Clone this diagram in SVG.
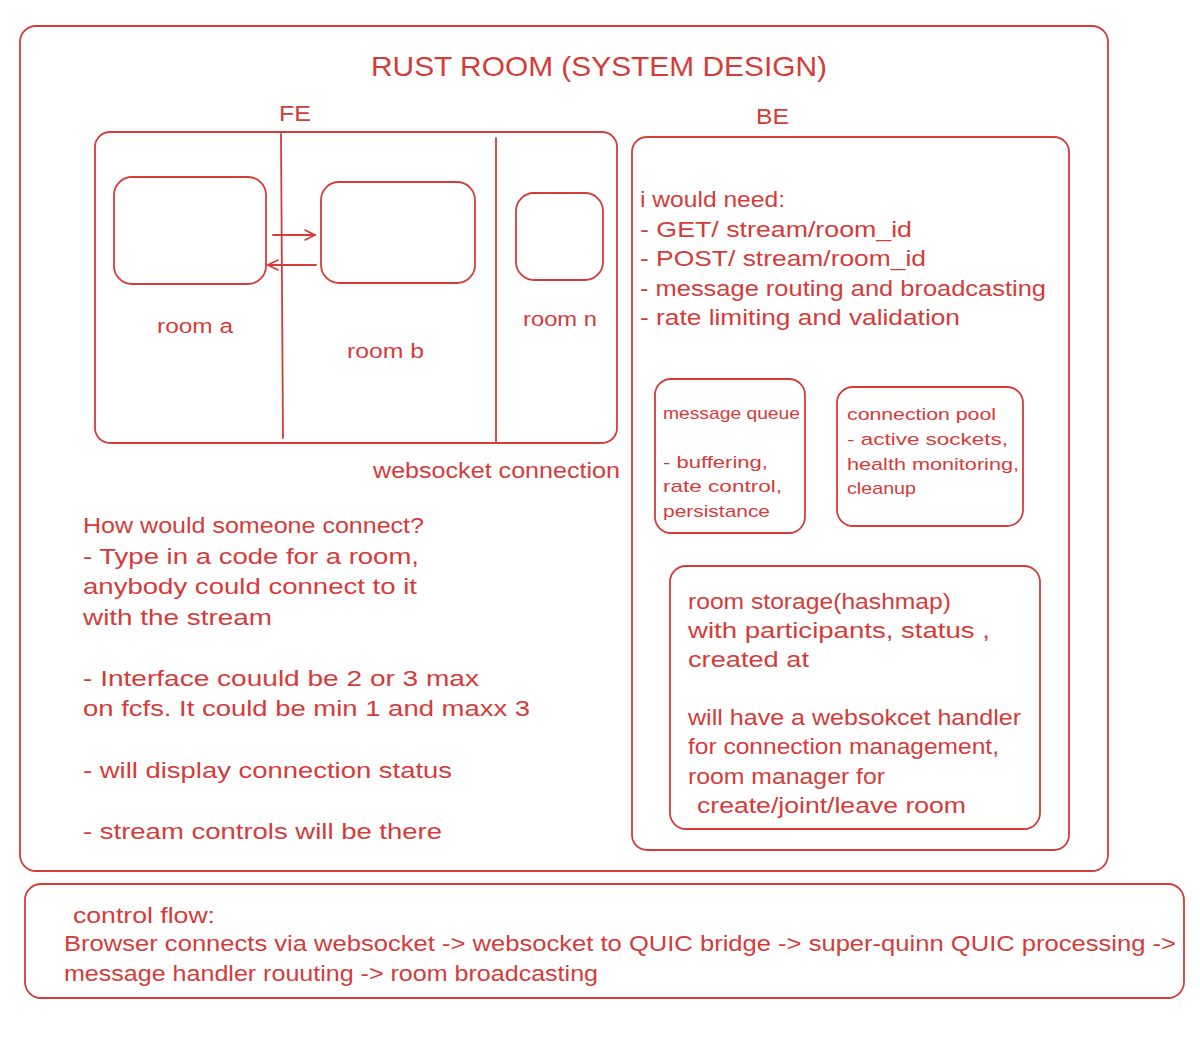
<svg xmlns="http://www.w3.org/2000/svg" width="1200" height="1038" viewBox="0 0 1200 1038">
<style>
.box{fill:none;stroke:#d43c3a;stroke-width:1.8}
.ln{fill:none;stroke:#d43c3a;stroke-width:1.8;stroke-linecap:round}
text{fill:#d43c3a;font-family:"Liberation Sans","DejaVu Sans",sans-serif;font-size:22px}
.title{font-size:28px}
.sm{font-size:17px}
.lbl{font-size:20px}
</style>
<defs>
<marker id="arr" viewBox="0 0 12 12" refX="11" refY="6" markerWidth="12" markerHeight="12" markerUnits="userSpaceOnUse" orient="auto">
<path d="M1,1 L11,6 L1,11" fill="none" stroke="#d43c3a" stroke-width="1.6" stroke-linecap="round"/>
</marker>
</defs>
<rect width="1200" height="1038" fill="#ffffff"/>

<g id="frame">
<rect class="box" x="20" y="26" width="1088" height="845" rx="16"/>
<text class="title" x="371" y="76" textLength="456" lengthAdjust="spacingAndGlyphs">RUST ROOM (SYSTEM DESIGN)</text>
</g>

<g id="fe">
<text x="279" y="121" textLength="32" lengthAdjust="spacingAndGlyphs">FE</text>
<rect class="box" x="95" y="132" width="522" height="311" rx="15"/>
<line class="ln" x1="281" y1="134" x2="283" y2="438"/>
<line class="ln" x1="496" y1="138" x2="496" y2="443"/>
</g>

<g id="room-a">
<rect class="box" x="114" y="177" width="152" height="107" rx="18"/>
<text class="lbl" x="157" y="333" textLength="76" lengthAdjust="spacingAndGlyphs">room a</text>
</g>

<g id="room-b">
<rect class="box" x="321" y="182" width="154" height="101" rx="18"/>
<text class="lbl" x="347" y="358" textLength="77" lengthAdjust="spacingAndGlyphs">room b</text>
</g>

<g id="room-n">
<rect class="box" x="516" y="193" width="87" height="87" rx="18"/>
<text class="lbl" x="523" y="326" textLength="74" lengthAdjust="spacingAndGlyphs">room n</text>
</g>

<g id="connectors">
<line class="ln" x1="273" y1="235" x2="315" y2="235" marker-end="url(#arr)"/>
<line class="ln" x1="316" y1="265" x2="268" y2="265" marker-end="url(#arr)"/>
</g>

<g id="ws-label">
<text x="373" y="478" textLength="247" lengthAdjust="spacingAndGlyphs">websocket connection</text>
</g>

<g id="fe-notes">
<text x="83" y="533" textLength="341" lengthAdjust="spacingAndGlyphs">How would someone connect?</text>
<text x="83" y="564" textLength="336" lengthAdjust="spacingAndGlyphs">- Type in a code for a room,</text>
<text x="83" y="594" textLength="334" lengthAdjust="spacingAndGlyphs">anybody could connect to it</text>
<text x="83" y="625" textLength="189" lengthAdjust="spacingAndGlyphs">with the stream</text>
<text x="83" y="686" textLength="396" lengthAdjust="spacingAndGlyphs">- Interface couuld be 2 or 3 max</text>
<text x="83" y="716" textLength="447" lengthAdjust="spacingAndGlyphs">on fcfs. It could be min 1 and maxx 3</text>
<text x="83" y="778" textLength="369" lengthAdjust="spacingAndGlyphs">- will display connection status</text>
<text x="83" y="839" textLength="359" lengthAdjust="spacingAndGlyphs">- stream controls will be there</text>
</g>

<g id="be">
<text x="756" y="124" textLength="33" lengthAdjust="spacingAndGlyphs">BE</text>
<rect class="box" x="632" y="137" width="437" height="713" rx="15"/>
<text x="640" y="207" textLength="145" lengthAdjust="spacingAndGlyphs">i would need:</text>
<text x="640" y="237" textLength="272" lengthAdjust="spacingAndGlyphs">- GET/ stream/room_id</text>
<text x="640" y="266" textLength="286" lengthAdjust="spacingAndGlyphs">- POST/ stream/room_id</text>
<text x="640" y="296" textLength="406" lengthAdjust="spacingAndGlyphs">- message routing and broadcasting</text>
<text x="640" y="325" textLength="320" lengthAdjust="spacingAndGlyphs">- rate limiting and validation</text>
</g>

<g id="message-queue">
<rect class="box" x="655" y="379" width="150" height="154" rx="16"/>
<text class="sm" x="663" y="419" textLength="137" lengthAdjust="spacingAndGlyphs">message queue</text>
<text class="sm" x="663" y="468" textLength="105" lengthAdjust="spacingAndGlyphs">- buffering,</text>
<text class="sm" x="663" y="492" textLength="119" lengthAdjust="spacingAndGlyphs">rate control,</text>
<text class="sm" x="663" y="517" textLength="107" lengthAdjust="spacingAndGlyphs">persistance</text>
</g>

<g id="connection-pool">
<rect class="box" x="837" y="387" width="186" height="139" rx="16"/>
<text class="sm" x="847" y="420" textLength="149" lengthAdjust="spacingAndGlyphs">connection pool</text>
<text class="sm" x="847" y="445" textLength="161" lengthAdjust="spacingAndGlyphs">- active sockets,</text>
<text class="sm" x="847" y="470" textLength="172" lengthAdjust="spacingAndGlyphs">health monitoring,</text>
<text class="sm" x="847" y="494" textLength="69" lengthAdjust="spacingAndGlyphs">cleanup</text>
</g>

<g id="room-storage">
<rect class="box" x="670" y="566" width="370" height="263" rx="16"/>
<text x="688" y="609" textLength="263" lengthAdjust="spacingAndGlyphs">room storage(hashmap)</text>
<text x="688" y="638" textLength="302" lengthAdjust="spacingAndGlyphs">with participants, status ,</text>
<text x="688" y="667" textLength="121" lengthAdjust="spacingAndGlyphs">created at</text>
<text x="688" y="725" textLength="333" lengthAdjust="spacingAndGlyphs">will have a websokcet handler</text>
<text x="688" y="754" textLength="311" lengthAdjust="spacingAndGlyphs">for connection management,</text>
<text x="688" y="784" textLength="197" lengthAdjust="spacingAndGlyphs">room manager for</text>
<text x="697" y="813" textLength="269" lengthAdjust="spacingAndGlyphs">create/joint/leave room</text>
</g>

<g id="control-flow">
<rect class="box" x="25" y="884" width="1159" height="114" rx="16"/>
<text x="73" y="923" textLength="142" lengthAdjust="spacingAndGlyphs">control flow:</text>
<text x="64" y="951" textLength="1112" lengthAdjust="spacingAndGlyphs">Browser connects via websocket -&gt; websocket to QUIC bridge -&gt; super-quinn QUIC processing -&gt;</text>
<text x="64" y="981" textLength="534" lengthAdjust="spacingAndGlyphs">message handler rouuting -&gt; room broadcasting</text>
</g>
</svg>
